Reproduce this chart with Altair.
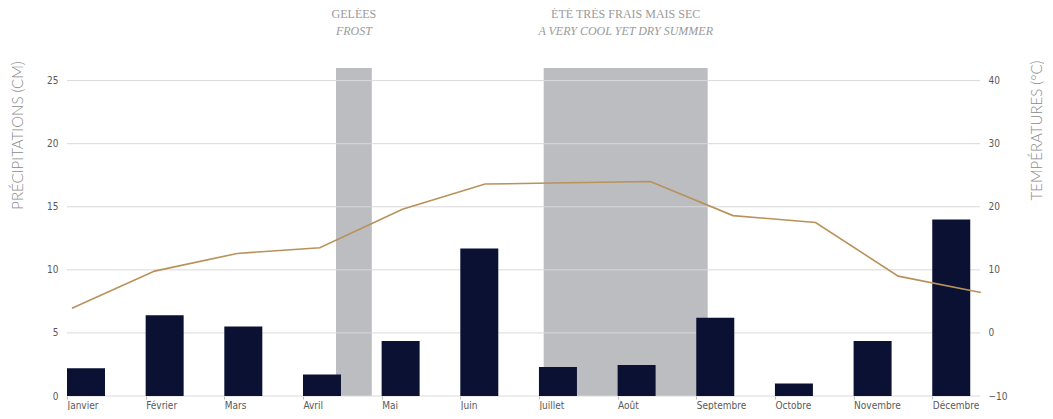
import json
import altair as alt
import pandas as pd

# ---- data ----
months = ["Janvier", "Février", "Mars", "Avril", "Mai", "Juin",
          "Juillet", "Août", "Septembre", "Octobre", "Novembre", "Décembre"]
precip_cm = [2.2, 6.4, 5.5, 1.7, 4.35, 11.7, 2.3, 2.45, 6.2, 1.0, 4.35, 14.0]
temp_c = [3.9, 9.8, 12.6, 13.5, 19.6, 23.6, 23.8, 24.0, 18.6, 17.5, 9.0, 6.4]

precip_ticks = [0, 5, 10, 15, 20, 25]
temp_ticks = [-10, 0, 10, 20, 30, 40]

# shaded periods (in month-step units from the start of January)
period_start = [3.42, 6.06]
period_end = [3.875, 8.145]
period_fr = ["GELÉES", "ÉTÉ TRÈS FRAIS MAIS SEC"]
period_en = ["FROST", "A VERY COOL YET DRY SUMMER"]

# ---- layout / style ----
W, H = 913, 328
STEP_DOMAIN = [0, 11.607]      # bar axis: one unit per month step
LINE_DOMAIN = [-0.06, 10.99]   # temperature line positions
BAR_W = 0.483                  # bar width, in month steps

df = pd.DataFrame({"month": months, "idx": list(range(len(months))),
                   "precip": precip_cm, "temp": temp_c})
df["idx_end"] = df["idx"] + BAR_W
periods = pd.DataFrame({"start": period_start, "end": period_end,
                        "fr": period_fr, "en": period_en})
periods["mid"] = (periods["start"] + periods["end"]) / 2
grid_df = pd.DataFrame({"v": precip_ticks})

LABEL_FONT = "Liberation Sans Narrow, DejaVu Sans Condensed, Roboto, sans-serif"
TITLE_FONT = "Lato"
SERIF = "Liberation Serif"
LABEL_COLOR = "#595959"

month_expr = json.dumps(months, ensure_ascii=False) + "[datum.value]"
xq = alt.Scale(domain=STEP_DOMAIN, nice=False, zero=False)

gray = alt.Chart(periods).mark_rect(color="#bcbdc1").encode(
    x=alt.X("start:Q", scale=xq, axis=None),
    x2="end:Q",
    y=alt.value(0),
    y2=alt.value(H),
)

grid = alt.Chart(grid_df).mark_rule(color="#d9d9d9", strokeWidth=1).encode(
    y=alt.Y("v:Q", scale=alt.Scale(domain=[0, 26], nice=False), axis=None),
)

bars = alt.Chart(df).mark_rect(color="#0a1133").encode(
    x=alt.X("idx:Q", scale=xq,
            axis=alt.Axis(title=None, values=list(range(len(months))),
                          labelExpr=month_expr, labelAlign="left", labelAngle=0,
                          labelOverlap=False, labelFlush=False, grid=False,
                          ticks=True, tickSize=3, tickColor="#bfbfbf", domain=False,
                          labelPadding=1, labelFont=LABEL_FONT, labelFontSize=10,
                          labelColor=LABEL_COLOR)),
    x2="idx_end:Q",
    y=alt.Y("precip:Q", scale=alt.Scale(domain=[0, 26], nice=False),
            axis=alt.Axis(orient="left", values=precip_ticks, grid=False, domain=False,
                          ticks=False, labelPadding=9, labelFont=LABEL_FONT,
                          labelFontSize=10, labelColor=LABEL_COLOR,
                          title="PRÉCIPITATIONS (CM)", titleFont=TITLE_FONT,
                          titleFontSize=15, titleFontWeight=300, titleColor="#8a8a8a",
                          titleAngle=270, titleAlign="center", titleBaseline="middle",
                          titleX=-49.5, titleY=67)),
    y2=alt.datum(0),
)

line = alt.Chart(df).mark_line(color="#b8925a", strokeWidth=1.6).encode(
    x=alt.X("idx:Q", scale=alt.Scale(domain=LINE_DOMAIN, nice=False, zero=False),
            axis=None),
    y=alt.Y("temp:Q", scale=alt.Scale(domain=[-10, 42], nice=False),
            axis=alt.Axis(orient="right", values=temp_ticks, grid=False, domain=False,
                          ticks=False, labelPadding=8, labelFont=LABEL_FONT,
                          labelFontSize=10, labelColor=LABEL_COLOR,
                          title="TEMPÉRATURES (°C)", titleFont=TITLE_FONT,
                          titleFontSize=15, titleFontWeight=300, titleColor="#8a8a8a",
                          titleAngle=270, titleAlign="center", titleBaseline="middle",
                          titleX=56, titleY=62)),
)

txt_fr = alt.Chart(periods).mark_text(font=SERIF, fontSize=12, color="#9a9a9a",
                                      baseline="middle").encode(
    x=alt.X("mid:Q", scale=xq, axis=None),
    y=alt.value(-54),
    text="fr:N",
)
txt_en = alt.Chart(periods).mark_text(font=SERIF, fontSize=12, color="#9a9a9a",
                                      fontStyle="italic", baseline="middle").encode(
    x=alt.X("mid:Q", scale=xq, axis=None),
    y=alt.value(-37),
    text="en:N",
)

chart = alt.layer(gray, grid, bars, line, txt_fr, txt_en).resolve_scale(
    x="independent", y="independent"
).properties(
    width=W, height=H, padding={"left": 2, "top": 0, "right": 0, "bottom": 0}
).configure_view(stroke=None)

chart.save("out.html", embed_options={"renderer": "svg", "actions": False})
